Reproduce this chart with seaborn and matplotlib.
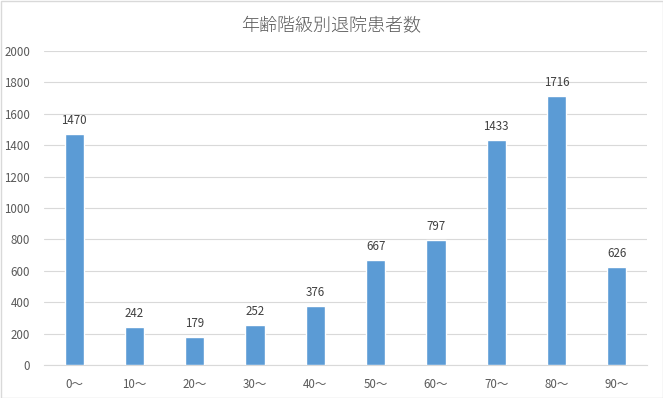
import matplotlib
matplotlib.use("Agg")
import matplotlib.pyplot as plt
import seaborn as sns
import pandas as pd
from matplotlib.patches import Rectangle

categories = ["0～", "10～", "20～", "30～", "40～", "50～", "60～", "70～", "80～", "90～"]
values = [1470, 242, 179, 252, 376, 667, 797, 1433, 1716, 626]
yticks = [0, 200, 400, 600, 800, 1000, 1200, 1400, 1600, 1800, 2000]
title = "年齢階級別退院患者数"

sns.set_theme(style="white")
plt.rcParams['font.family'] = ['Noto Sans CJK JP', 'DejaVu Sans']

df = pd.DataFrame({"cat": categories, "val": values})

fig = plt.figure(figsize=(6.63, 3.98), dpi=100)
ax = fig.add_axes([44/663, 33/398, (647-44)/663, (365-51)/398])

sns.barplot(data=df, x="cat", y="val", color="#5B9BD5", width=0.32,
            saturation=1, ax=ax, zorder=3)

ax.set_ylim(0, 2000)
ax.set_yticks(yticks)
ax.set_xlim(-0.5, len(categories) - 0.5)
ax.yaxis.grid(True, color="#D9D9D9", linewidth=0.8, zorder=0)
ax.xaxis.grid(False)
for s in ["top", "right", "left"]:
    ax.spines[s].set_visible(False)
ax.spines["bottom"].set_color("#D9D9D9")
ax.spines["bottom"].set_linewidth(0.8)
ax.tick_params(axis="both", length=0, labelsize=8.3, colors="#595959")
ax.tick_params(axis="x", pad=9)
ax.tick_params(axis="y", pad=10)
ax.set_xlabel("")
ax.set_ylabel("")

for container in ax.containers:
    ax.bar_label(container, labels=[str(v) for v in values], padding=5,
                 fontsize=8.3, color="#404040")

fig.text(0.5, 1 - 25/398, title, ha="center", va="center", fontsize=13,
         color="#595959", fontweight="light")

fig.patches.append(Rectangle((0.5/663, 0.5/398), 1 - 1/663, 1 - 1/398,
                             transform=fig.transFigure, fill=False,
                             edgecolor="#D9D9D9", linewidth=1))

fig.savefig("out.png", dpi=100)
